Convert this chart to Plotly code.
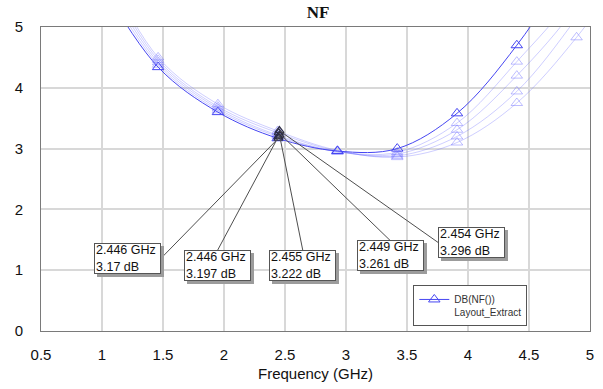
import plotly.graph_objects as go

# Frequency sweep points (GHz) where the NF traces carry their symbols
freq = [0.97, 1.46, 1.95, 2.44, 2.93, 3.42, 3.91, 4.40, 4.89, 5.38]

# DB(NF()) for the nominal layout extract and the four swept variants (dB)
nf_main = [5.80, 4.34, 3.60, 3.17, 2.96, 3.00, 3.58, 4.70, 6.20, 8.00]
nf_var1 = [5.90, 4.38, 3.63, 3.20, 2.95, 2.94, 3.42, 4.43, 5.60, 7.50]
nf_var2 = [6.00, 4.42, 3.66, 3.22, 2.95, 2.91, 3.31, 4.20, 5.35, 7.00]
nf_var3 = [6.10, 4.46, 3.69, 3.26, 2.96, 2.88, 3.20, 3.94, 5.15, 6.60]
nf_var4 = [6.20, 4.50, 3.73, 3.29, 2.97, 2.86, 3.10, 3.75, 4.83, 6.20]

# Read-out markers placed near 2.45 GHz
mk_freq = [2.446, 2.446, 2.455, 2.449, 2.454]
mk_nf = [3.17, 3.197, 3.222, 3.261, 3.296]

# Where each read-out box sits (GHz, dB) and which side of the box the leader meets
box_x = [1.481, 1.947, 2.646, 3.362, 3.758]
box_y = [1.19, 1.326, 1.326, 1.489, 1.452]
box_side = ["right", "top", "top", "top", "left"]

FONT = "Arial, Liberation Sans, sans-serif"
MAIN = "#4646f2"
LIGHT = "rgba(110,110,255,0.34)"
LIGHT_MK = "rgba(110,110,255,0.45)"
SHADOW = "#9c9c9c"

# plot area in pixels, used to place the legend and its shadow
PL, PR, PT, PB = 41, 594, 27, 334
LEG_L, LEG_T, LEG_W, LEG_H = 416, 288, 111, 34

fig = go.Figure()

for ys in [nf_var4, nf_var3, nf_var2, nf_var1]:
    fig.add_trace(go.Scatter(
        x=freq, y=ys, mode="lines+markers",
        line=dict(color=LIGHT, width=1, shape="spline"),
        marker=dict(symbol="triangle-up-open", size=10, color=LIGHT_MK,
                    line=dict(width=1)),
        showlegend=False, hoverinfo="skip"))

fig.add_trace(go.Scatter(
    x=freq, y=nf_main, mode="lines+markers",
    name="DB(NF())<br>Layout_Extract",
    line=dict(color=MAIN, width=1, shape="spline"),
    marker=dict(symbol="triangle-up-open", size=10, color=MAIN,
                line=dict(width=1))))

fig.add_trace(go.Scatter(
    x=mk_freq, y=mk_nf, mode="markers",
    marker=dict(symbol="triangle-up-open", size=8, color="#2c2c44",
                line=dict(width=1.2)),
    showlegend=False, hoverinfo="skip"))

shapes = []
annotations = []
for f, v, bx, by, side in zip(mk_freq, mk_nf, box_x, box_y, box_side):
    shapes.append(dict(type="line", xref="x", yref="y", x0=f, y0=v, x1=bx, y1=by,
                       line=dict(color="#4e4e4e", width=1), layer="above"))
    if side == "right":
        xa, ya = "right", "middle"
    elif side == "left":
        xa, ya = "left", "middle"
    else:
        xa, ya = "center", "top"
    common = dict(x=bx, y=by, xref="x", yref="y", showarrow=False,
                  xanchor=xa, yanchor=ya, align="left", valign="middle",
                  width=63, height=27, borderpad=1, borderwidth=1)
    # drop shadow behind the read-out box
    annotations.append(dict(common, text=" ", xshift=3, yshift=-3,
                            bgcolor=SHADOW, bordercolor=SHADOW,
                            font=dict(family=FONT, size=12, color=SHADOW)))
    annotations.append(dict(common, text=f"{f:.3f} GHz<br>{v:g} dB",
                            bgcolor="white", bordercolor="#555555",
                            font=dict(family=FONT, size=12.5, color="#111111")))

# legend shadow
pw, ph = PR - PL, PB - PT
shapes.append(dict(type="rect", xref="paper", yref="paper",
                   x0=(LEG_L + 3 - PL) / pw, x1=(LEG_L + LEG_W + 3 - PL) / pw,
                   y0=(PB - (LEG_T + LEG_H + 3)) / ph, y1=(PB - (LEG_T + 3)) / ph,
                   fillcolor=SHADOW, line=dict(width=0), layer="above"))

fig.update_layout(
    width=603, height=389,
    margin=dict(l=PL, r=603 - PR, t=PT, b=389 - PB),
    paper_bgcolor="white", plot_bgcolor="white",
    title=dict(text="<b>NF</b>", x=318 / 603, xanchor="center",
               y=1 - 12.5 / 389, yanchor="middle",
               font=dict(family="Times New Roman, Liberation Serif, serif",
                         size=17, color="#111111")),
    showlegend=True,
    legend=dict(x=(LEG_L - PL) / pw, y=(PB - LEG_T) / ph,
                xanchor="left", yanchor="top",
                bgcolor="white", bordercolor="#555555", borderwidth=1,
                itemwidth=30, valign="top",
                font=dict(family=FONT, size=10, color="#333333")),
    shapes=shapes,
    annotations=annotations,
)

fig.update_xaxes(
    range=[0.5, 5], dtick=0.5, tick0=0.5,
    showgrid=True, gridcolor="#d8d8d8", gridwidth=1.5,
    showline=True, linecolor="#7a7a7a", linewidth=1, mirror=True,
    zeroline=False, ticks="outside", ticklen=10, tickcolor="rgba(0,0,0,0)",
    tickfont=dict(family=FONT, size=15, color="#111111"),
    title=dict(text="Frequency (GHz)", standoff=6,
               font=dict(family=FONT, size=15, color="#111111")))

fig.update_yaxes(
    range=[0, 5], dtick=1,
    showgrid=True, gridcolor="#d8d8d8", gridwidth=1.5,
    showline=True, linecolor="#7a7a7a", linewidth=1, mirror=True,
    zeroline=False, ticks="outside", ticklen=14, tickcolor="rgba(0,0,0,0)",
    tickfont=dict(family=FONT, size=15, color="#111111"))

fig.write_html("out.html")
